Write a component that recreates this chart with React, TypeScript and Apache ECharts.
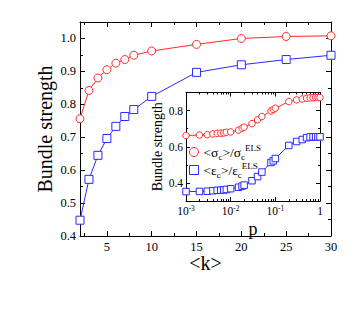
import React, { useEffect, useRef } from 'react';
import * as echarts from 'echarts';

// Main plot: bundle strength vs <k>
const kValues = [2, 3, 4, 5, 6, 7, 8, 10, 15, 20, 25, 30];
const sigmaVsK = [0.756, 0.842, 0.88, 0.905, 0.925, 0.936, 0.949, 0.962, 0.982, 1.0, 1.006, 1.008];
const epsVsK = [0.448, 0.572, 0.645, 0.696, 0.733, 0.763, 0.784, 0.824, 0.897, 0.92, 0.936, 0.949];

// Inset: bundle strength vs p
const pValues = [0.001, 0.002, 0.003, 0.004, 0.005, 0.006, 0.007, 0.008, 0.01, 0.015, 0.018, 0.02, 0.03, 0.04, 0.05, 0.08, 0.09, 0.1, 0.2, 0.3, 0.4, 0.5, 0.6, 0.7, 0.8, 0.9, 1];
const sigmaVsP = [0.662, 0.665, 0.667, 0.671, 0.674, 0.675, 0.676, 0.68, 0.682, 0.692, 0.703, 0.708, 0.728, 0.749, 0.767, 0.798, 0.806, 0.813, 0.85, 0.859, 0.864, 0.868, 0.87, 0.871, 0.872, 0.872, 0.872];
const epsVsP = [0.352, 0.353, 0.354, 0.357, 0.359, 0.36, 0.361, 0.364, 0.368, 0.376, 0.382, 0.388, 0.412, 0.435, 0.46, 0.513, 0.522, 0.535, 0.607, 0.629, 0.64, 0.65, 0.654, 0.655, 0.655, 0.655, 0.655];

// Tick positions / labels
const mainXMajor = [5, 10, 15, 20, 25, 30];
const mainXMinor = [2.5, 7.5, 12.5, 17.5, 22.5, 27.5];
const mainYMajor = [0.4, 0.5, 0.6, 0.7, 0.8, 0.9, 1.0];
const mainYMinor = [0.45, 0.55, 0.65, 0.75, 0.85, 0.95, 1.05];
const insetYMajor = [0.4, 0.6, 0.8];
const insetYMinor = [0.3, 0.5, 0.7, 0.9];
const insetXMajor = [0.001, 0.01, 0.1, 1];
const insetXMinor = [0.002, 0.003, 0.004, 0.005, 0.006, 0.007, 0.008, 0.009, 0.02, 0.03, 0.04, 0.05, 0.06, 0.07, 0.08, 0.09, 0.2, 0.3, 0.4, 0.5, 0.6, 0.7, 0.8, 0.9];

const RED = '#ff2a2a';
const BLUE = '#2a2aff';
const FONT = "'Liberation Serif', 'Times New Roman', serif";

const pair = (xs: number[], ys: number[]) => xs.map((x, i) => [x, ys[i]]);

function tickAxis(base: any, opts: { gridIndex: number; position: string; ticks: number[]; len: number; labels?: number[]; line?: boolean; labelStyle?: any; name?: string; nameStyle?: any }) {
  return {
    ...base,
    gridIndex: opts.gridIndex,
    position: opts.position,
    splitLine: { show: false },
    axisLine: { show: !!opts.line, onZero: false, lineStyle: { color: '#000', width: 1 } },
    axisTick: { show: true, inside: true, length: opts.len, customValues: opts.ticks, lineStyle: { color: '#000', width: 1 } },
    axisLabel: opts.labels
      ? { show: true, customValues: opts.labels, ...opts.labelStyle }
      : { show: false },
    ...(opts.name ? { name: opts.name, nameLocation: 'middle', nameMoveOverlap: false, ...opts.nameStyle } : {}),
  };
}

function lineSeries(name: string, xi: number, data: number[][], symbol: string, size: number, color: string) {
  return {
    name, type: 'line', xAxisIndex: xi, yAxisIndex: xi, data,
    symbol, symbolSize: size,
    lineStyle: { color, width: 1 },
    itemStyle: { color: '#fff', borderColor: color, borderWidth: 1 },
    emphasis: { disabled: true },
  };
}

export default function App() {
  const ref = useRef<HTMLDivElement>(null);
  useEffect(() => {
    if (!ref.current) return;
    const chart = echarts.init(ref.current, undefined, { renderer: 'svg' });

    const mainX = { type: 'value', min: 2, max: 30 };
    const mainY = { type: 'value', min: 0.4, max: 1.05 };
    const insetX = { type: 'log', logBase: 10, min: 0.001, max: 1 };
    const insetY = { type: 'value', min: 0.3, max: 0.9 };

    const mainLabel = { fontFamily: FONT, fontSize: 12.5, lineHeight: 13, color: '#000', margin: 4 };
    const insetLabel = { fontFamily: FONT, fontSize: 11.5, lineHeight: 12, color: '#000', margin: 3 };

    const option: any = {
      animation: false,
      backgroundColor: '#fff',
      textStyle: { fontFamily: FONT },
      grid: [
        { left: 80, top: 22, width: 251, height: 214, show: false },
        { left: 186, top: 92.5, width: 134, height: 108.5, show: true, backgroundColor: '#fff', borderWidth: 0 },
      ],
      xAxis: [
        tickAxis(mainX, {
          gridIndex: 0, position: 'bottom', ticks: mainXMajor, len: 5, labels: mainXMajor, line: true,
          labelStyle: mainLabel, name: '<k>',
          nameStyle: { nameGap: 18, nameTextStyle: { fontFamily: FONT, fontSize: 20, lineHeight: 18, color: '#000' } },
        }),
        tickAxis(mainX, { gridIndex: 0, position: 'bottom', ticks: mainXMinor, len: 3 }),
        tickAxis(mainX, { gridIndex: 0, position: 'top', ticks: mainXMajor, len: 5, line: true }),
        tickAxis(mainX, { gridIndex: 0, position: 'top', ticks: mainXMinor, len: 3 }),
        tickAxis(insetX, {
          gridIndex: 1, position: 'bottom', ticks: insetXMajor, len: 4, labels: insetXMajor, line: true,
          labelStyle: {
            ...insetLabel,
            formatter: (v: number) => {
              const e = Math.round(Math.log10(v));
              return e === 0 ? '1' : '10{sup|' + e + '}';
            },
            rich: { sup: { fontFamily: FONT, fontSize: 7.5, lineHeight: 8, verticalAlign: 'top', color: '#000' } },
            lineHeight: 13,
          },
          name: 'p',
          nameStyle: { nameGap: 20, nameTextStyle: { fontFamily: FONT, fontSize: 18, lineHeight: 16, color: '#000' } },
        }),
        tickAxis(insetX, { gridIndex: 1, position: 'bottom', ticks: insetXMinor, len: 2 }),
        tickAxis(insetX, { gridIndex: 1, position: 'top', ticks: insetXMajor, len: 4, line: true }),
        tickAxis(insetX, { gridIndex: 1, position: 'top', ticks: insetXMinor, len: 2 }),
      ],
      yAxis: [
        tickAxis(mainY, {
          gridIndex: 0, position: 'left', ticks: mainYMajor, len: 5, labels: mainYMajor, line: true,
          labelStyle: { ...mainLabel, formatter: (v: number) => v.toFixed(1) },
          name: 'Bundle strength',
          nameStyle: { nameGap: 25, nameRotate: 90, nameTextStyle: { fontFamily: FONT, fontSize: 20, color: '#000' } },
        }),
        tickAxis(mainY, { gridIndex: 0, position: 'left', ticks: mainYMinor, len: 3 }),
        tickAxis(mainY, { gridIndex: 0, position: 'right', ticks: mainYMajor, len: 5, line: true }),
        tickAxis(mainY, { gridIndex: 0, position: 'right', ticks: mainYMinor, len: 3 }),
        tickAxis(insetY, {
          gridIndex: 1, position: 'left', ticks: insetYMajor, len: 4, labels: insetYMajor, line: true,
          labelStyle: { ...insetLabel, formatter: (v: number) => v.toFixed(1) },
          name: 'Bundle strength',
          nameStyle: { nameGap: 22, nameRotate: 90, nameTextStyle: { fontFamily: FONT, fontSize: 14, color: '#000' } },
        }),
        tickAxis(insetY, { gridIndex: 1, position: 'left', ticks: insetYMinor, len: 2 }),
        tickAxis(insetY, { gridIndex: 1, position: 'right', ticks: insetYMajor, len: 4, line: true }),
        tickAxis(insetY, { gridIndex: 1, position: 'right', ticks: insetYMinor, len: 2 }),
      ],
      legend: {
        orient: 'vertical',
        left: 189,
        top: 143,
        itemWidth: 9,
        itemHeight: 9,
        itemGap: 0,
        padding: 0,
        data: [
          { name: 'sigmaP', icon: 'circle', itemStyle: { color: '#fff', borderColor: RED, borderWidth: 1 } },
          { name: 'epsP', icon: 'rect', itemStyle: { color: '#fff', borderColor: BLUE, borderWidth: 1 } },
        ],
        formatter: (name: string) =>
          name === 'sigmaP'
            ? '<σ{sub|c}>/σ{sub|c}{sup|ELS}'
            : '<ε{sub|c}>/ε{sub|c}{sup|ELS}',
        textStyle: {
          fontFamily: FONT,
          fontSize: 13.5,
          color: '#000',
          lineHeight: 18,
          rich: {
            sub: { fontFamily: FONT, fontSize: 9, lineHeight: 11, verticalAlign: 'bottom', color: '#000' },
            sup: { fontFamily: FONT, fontSize: 9, lineHeight: 9, verticalAlign: 'top', color: '#000' },
          },
        },
      },
      series: [
        lineSeries('sigmaK', 0, pair(kValues, sigmaVsK), 'circle', 8, RED),
        lineSeries('epsK', 0, pair(kValues, epsVsK), 'rect', 8, BLUE),
        lineSeries('sigmaP', 4, pair(pValues, sigmaVsP), 'circle', 6.5, RED),
        lineSeries('epsP', 4, pair(pValues, epsVsP), 'rect', 6.5, BLUE),
      ],
    };
    chart.setOption(option);
    return () => chart.dispose();
  }, []);
  return <div ref={ref} style={{ position: 'fixed', left: 0, top: 0, width: 360, height: 309 }} />;
}
